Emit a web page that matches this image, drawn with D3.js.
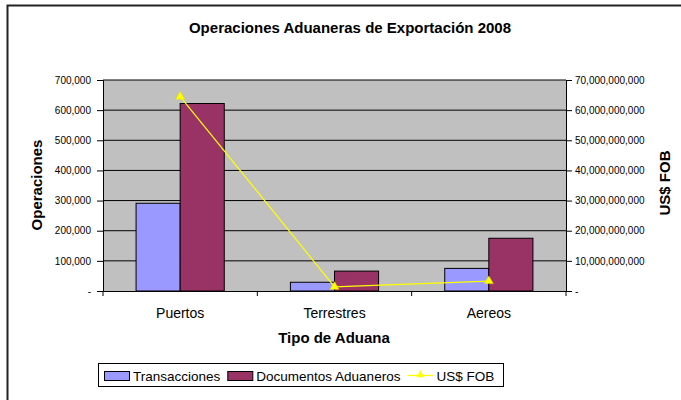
<!DOCTYPE html>
<html>
<head>
<meta charset="utf-8">
<script src="https://cdn.jsdelivr.net/npm/d3@7"></script>
<style>
  body { margin: 0; background: #fff; }
  svg { display: block; font-family: "Liberation Sans", Arial, sans-serif; }
</style>
</head>
<body>
<div class="chart"></div>
<script>
// data
const categories = ["Puertos", "Terrestres", "Aereos"];
const seriesNames = ["Transacciones", "Documentos Aduaneros"];
const transacciones = [291000, 29000, 75000];
const documentos = [622000, 66000, 175000];
const usFob = [64500000000, 1400000000, 3300000000];
const leftTicks = [0, 100000, 200000, 300000, 400000, 500000, 600000, 700000];
const rightTicks = [0, 10e9, 20e9, 30e9, 40e9, 50e9, 60e9, 70e9];

const colors = ["#9999FF", "#993366"];
const lineColor = "#FFFF00";

const width = 681, height = 400;
const plot = { left: 103, right: 566, top: 80, bottom: 291 };

const svg = d3.select(".chart")
  .append("svg")
  .attr("width", width)
  .attr("height", height);

svg.append("rect")
  .attr("width", width)
  .attr("height", height)
  .attr("fill", "#fff");

// outer chart frame (only left and top edges visible)
svg.append("rect")
  .attr("x", 7.5)
  .attr("y", 5.5)
  .attr("width", 720)
  .attr("height", 440)
  .attr("fill", "none")
  .attr("stroke", "#222")
  .attr("stroke-width", 2);

// scales
const x = d3.scaleBand()
  .domain(categories)
  .range([plot.left, plot.right]);

const xInner = d3.scaleBand()
  .domain(seriesNames)
  .range([0, x.bandwidth()])
  .paddingInner(0)
  .paddingOuter(0.75);

const yLeft = d3.scaleLinear()
  .domain([0, 700000])
  .range([plot.bottom, plot.top]);

const yRight = d3.scaleLinear()
  .domain([0, 70e9])
  .range([plot.bottom, plot.top]);

const fmt = v => v === 0 ? "-" : d3.format(",")(v);

// plot background
svg.append("rect")
  .attr("x", plot.left)
  .attr("y", plot.top)
  .attr("width", plot.right - plot.left)
  .attr("height", plot.bottom - plot.top)
  .attr("fill", "#C0C0C0");

// gridlines
svg.append("g")
  .selectAll("line")
  .data(leftTicks.slice(1))
  .join("line")
  .attr("x1", plot.left)
  .attr("x2", plot.right)
  .attr("y1", d => yLeft(d))
  .attr("y2", d => yLeft(d))
  .attr("stroke", "#000")
  .attr("stroke-width", 1);

// bars
const barData = [];
categories.forEach((c, i) => {
  barData.push({ cat: c, series: seriesNames[0], value: transacciones[i], color: colors[0] });
  barData.push({ cat: c, series: seriesNames[1], value: documentos[i], color: colors[1] });
});

svg.append("g")
  .selectAll("rect")
  .data(barData)
  .join("rect")
  .attr("x", d => x(d.cat) + xInner(d.series))
  .attr("y", d => yLeft(d.value))
  .attr("width", xInner.bandwidth())
  .attr("height", d => yLeft(0) - yLeft(d.value))
  .attr("fill", d => d.color)
  .attr("stroke", "#000")
  .attr("stroke-width", 1);

// line series on secondary axis
const lineData = categories.map((c, i) => ({ cat: c, value: usFob[i] }));
const line = d3.line()
  .x(d => x(d.cat) + x.bandwidth() / 2)
  .y(d => yRight(d.value));

svg.append("path")
  .datum(lineData)
  .attr("d", line)
  .attr("fill", "none")
  .attr("stroke", lineColor)
  .attr("stroke-width", 1.2);

const tri = d3.symbol().type(d3.symbolTriangle).size(34);
svg.append("g")
  .selectAll("path")
  .data(lineData)
  .join("path")
  .attr("transform", d => `translate(${x(d.cat) + x.bandwidth() / 2},${yRight(d.value)})`)
  .attr("d", tri)
  .attr("fill", lineColor)
  .attr("stroke", "#E6E600")
  .attr("stroke-width", 0.5);

// axes
const leftAxis = svg.append("g")
  .attr("transform", `translate(${plot.left},0)`)
  .call(d3.axisLeft(yLeft).tickValues(leftTicks).tickFormat(fmt).tickSize(6).tickPadding(6));

const rightAxis = svg.append("g")
  .attr("transform", `translate(${plot.right},0)`)
  .call(d3.axisRight(yRight).tickValues(rightTicks).tickFormat(fmt).tickSize(6).tickPadding(3));

[leftAxis, rightAxis].forEach(g => {
  g.select(".domain").attr("stroke", "#000");
  g.selectAll(".tick line").attr("stroke", "#000");
  g.selectAll(".tick text")
    .attr("font-size", 10)
    .attr("font-family", "Liberation Sans, Arial, sans-serif")
    .attr("fill", "#000");
});

const bottomAxis = svg.append("g")
  .attr("transform", `translate(0,${plot.bottom})`)
  .call(d3.axisBottom(x).tickSize(0).tickPadding(17));
bottomAxis.select(".domain").attr("stroke", "#000");
bottomAxis.selectAll(".tick text")
  .attr("font-size", 14)
  .attr("font-family", "Liberation Sans, Arial, sans-serif")
  .attr("fill", "#000");

// category boundary ticks
const bounds = categories.map(c => x(c)).concat([plot.right]);
bottomAxis.append("g")
  .selectAll("line")
  .data(bounds)
  .join("line")
  .attr("x1", d => d)
  .attr("x2", d => d)
  .attr("y1", 0)
  .attr("y2", 5)
  .attr("stroke", "#000");

// titles
svg.append("text")
  .attr("x", 350)
  .attr("y", 33)
  .attr("text-anchor", "middle")
  .attr("font-size", 15)
  .attr("font-weight", "bold")
  .text("Operaciones Aduaneras de Exportación 2008");

svg.append("text")
  .attr("x", 334)
  .attr("y", 343)
  .attr("text-anchor", "middle")
  .attr("font-size", 15)
  .attr("font-weight", "bold")
  .text("Tipo de Aduana");

svg.append("text")
  .attr("transform", "translate(42,185) rotate(-90)")
  .attr("text-anchor", "middle")
  .attr("font-size", 15)
  .attr("font-weight", "bold")
  .text("Operaciones");

svg.append("text")
  .attr("transform", "translate(670,183) rotate(-90)")
  .attr("text-anchor", "middle")
  .attr("font-size", 15)
  .attr("font-weight", "bold")
  .text("US$ FOB");

// legend
const legend = svg.append("g");
legend.append("rect")
  .attr("x", 98.5)
  .attr("y", 363.5)
  .attr("width", 405)
  .attr("height", 23)
  .attr("fill", "#fff")
  .attr("stroke", "#000");

const legendItems = [
  { name: seriesNames[0], type: "bar", color: colors[0] },
  { name: seriesNames[1], type: "bar", color: colors[1] },
  { name: "US$ FOB", type: "line", color: lineColor }
];

let lx = 104;
legendItems.forEach(item => {
  if (item.type === "bar") {
    legend.append("rect")
      .attr("x", lx + 0.5)
      .attr("y", 371.5)
      .attr("width", 25)
      .attr("height", 9)
      .attr("fill", item.color)
      .attr("stroke", "#000");
  } else {
    legend.append("line")
      .attr("x1", lx)
      .attr("x2", lx + 26)
      .attr("y1", 375.5)
      .attr("y2", 375.5)
      .attr("stroke", item.color)
      .attr("stroke-width", 1.2);
    legend.append("path")
      .attr("transform", `translate(${lx + 13},375)`)
      .attr("d", d3.symbol().type(d3.symbolTriangle).size(28))
      .attr("fill", item.color);
  }
  const t = legend.append("text")
    .attr("x", lx + 29)
    .attr("y", 381)
    .attr("font-size", 13.5)
    .text(item.name);
  lx += 29 + t.node().getComputedTextLength() + 7;
});
</script>
</body>
</html>
